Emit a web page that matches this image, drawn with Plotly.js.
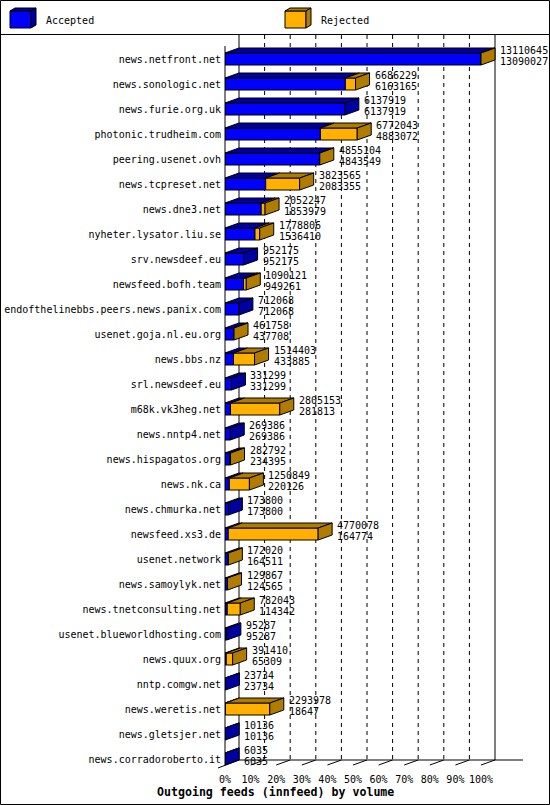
<!DOCTYPE html>
<html><head><meta charset="utf-8">
<script src="https://cdn.plot.ly/plotly-3.0.1.min.js"></script>
<style>html,body{margin:0;padding:0;background:#fff}#chart{width:550px;height:805px}</style>
</head><body><div id="chart"></div>
<script>
const hosts = ["news.netfront.net","news.sonologic.net","news.furie.org.uk","photonic.trudheim.com","peering.usenet.ovh","news.tcpreset.net","news.dne3.net","nyheter.lysator.liu.se","srv.newsdeef.eu","newsfeed.bofh.team","endofthelinebbs.peers.news.panix.com","usenet.goja.nl.eu.org","news.bbs.nz","srl.newsdeef.eu","m68k.vk3heg.net","news.nntp4.net","news.hispagatos.org","news.nk.ca","news.chmurka.net","newsfeed.xs3.de","usenet.network","news.samoylyk.net","news.tnetconsulting.net","usenet.blueworldhosting.com","news.quux.org","nntp.comgw.net","news.weretis.net","news.gletsjer.net","news.corradoroberto.it"];
const offered = [13110645,6686229,6137919,6772043,4855104,3823565,2052247,1778806,952175,1090121,712068,461758,1514403,331299,2805153,269386,282792,1250849,173800,4770078,172020,129867,782043,95287,391410,23734,2293978,10136,6035];
const accepted = [13090027,6163165,6137919,4883072,4843549,2083355,1853979,1536410,952175,949261,712068,437708,433885,331299,281813,269386,234395,220126,173800,164774,164511,124565,114342,95287,65309,23734,18647,10136,6035];
const tickPercents = [0,10,20,30,40,50,60,70,80,90,100];
const seriesNames = ["Accepted","Rejected"];
const axisTitle = "Outgoing feeds (innfeed) by volume";

const W = 550, H = 805;
const PLOT_L = 225, PLOT_R = 545, PLOT_T = 46.5, PLOT_B = 771.5;
const XMAX = 125;
const pxPerX = (PLOT_R - PLOT_L) / XMAX;
const pxPerY = 25;
const DX = 14 / pxPerX, DY = 5 / pxPerY, HH = 0.24;
const BLUE = '#0000FF', DBLUE = '#0000A0', ORANGE = '#FFB000', DORANGE = '#B07C00';
const FONT = 'DejaVu Sans Mono, Liberation Mono, monospace';

const maxTotal = Math.max(...offered);
const accPct = accepted.map(v => v / maxTotal * 100);
const totPct = offered.map(v => v / maxTotal * 100);
const rejPct = offered.map((v, i) => (v - accepted[i]) / maxTotal * 100);
const yIdx = hosts.map((_, i) => i);

const px = p => p / W;
const py = p => 1 - p / H;

const topB = {x: [], y: []}, topO = {x: [], y: []}, sideB = {x: [], y: []}, sideO = {x: [], y: []};
hosts.forEach((h, i) => {
  const yt = i - HH, yb = i + HH;
  topB.x.push(0, accPct[i], accPct[i] + DX, DX, 0, null);
  topB.y.push(yt, yt, yt - DY, yt - DY, yt, null);
  if (rejPct[i] > 0) {
    topO.x.push(accPct[i], totPct[i], totPct[i] + DX, accPct[i] + DX, accPct[i], null);
    topO.y.push(yt, yt, yt - DY, yt - DY, yt, null);
  }
  const e = totPct[i];
  const side = rejPct[i] > 0 ? sideO : sideB;
  side.x.push(e, e + DX, e + DX, e, e, null);
  side.y.push(yt, yt - DY, yb - DY, yb, yt, null);
});

const faceTrace = (f, color) => ({
  type: 'scatter', mode: 'lines', x: f.x, y: f.y, fill: 'toself', fillcolor: color,
  line: {color: '#000', width: 1}, hoverinfo: 'skip', showlegend: false
});

const rejIdx = yIdx.filter(i => rejPct[i] > 0);
const traces = [
  {type: 'bar', orientation: 'h', name: seriesNames[0], y: yIdx, x: accPct, base: 0, width: 0.48,
   marker: {color: BLUE, line: {color: '#000', width: 1}}, showlegend: false, hoverinfo: 'skip'},
  {type: 'bar', orientation: 'h', name: seriesNames[1], y: rejIdx.map(i => i), x: rejIdx.map(i => rejPct[i]),
   base: rejIdx.map(i => accPct[i]), width: 0.48,
   marker: {color: ORANGE, line: {color: '#000', width: 1}}, showlegend: false, hoverinfo: 'skip'},
  faceTrace(topB, DBLUE), faceTrace(topO, DORANGE), faceTrace(sideB, DBLUE), faceTrace(sideO, DORANGE)
];

const shapes = [];
const L = (x0, y0, x1, y1, extra) => Object.assign({type: 'line', xref: 'paper', yref: 'paper',
  x0: px(x0), y0: py(y0), x1: px(x1), y1: py(y1), line: {color: '#000', width: 1}}, extra || {});
shapes.push({type: 'rect', xref: 'paper', yref: 'paper', x0: px(0.5), y0: py(0.5), x1: px(549.5), y1: py(804.5), line: {color: '#000', width: 1}});
shapes.push(L(0, 34.5, 550, 34.5));
tickPercents.forEach((t, k) => {
  shapes.push({type: 'line', xref: 'x', yref: 'paper', x0: t + DX, x1: t + DX, y0: py(35), y1: py(760),
    line: {color: '#000', width: 1, dash: (k === 0 || k === tickPercents.length - 1) ? 'solid' : '4px,4px'}, layer: 'below'});
  if (k > 0) {
    const xf = PLOT_L + t * pxPerX;
    shapes.push(L(xf, 765, xf + 14, 760));
  }
});
shapes.push(L(225, 46, 225, 765));
shapes.push(L(218, 768, 239, 760));
shapes.push(L(239, 760, 523, 760));
function cube(x0, color, dark) {
  const y0 = 11, y1 = 28, x1 = x0 + 21, d = 5, dy = 3;
  shapes.push({type: 'path', xref: 'paper', yref: 'paper', fillcolor: color, line: {color: '#000', width: 1},
    path: `M${px(x0)},${py(y0)} L${px(x1)},${py(y0)} L${px(x1)},${py(y1)} L${px(x0)},${py(y1)} Z`});
  shapes.push({type: 'path', xref: 'paper', yref: 'paper', fillcolor: dark, line: {color: '#000', width: 1},
    path: `M${px(x0)},${py(y0)} L${px(x0 + d)},${py(y0 - dy)} L${px(x1 + d)},${py(y0 - dy)} L${px(x1)},${py(y0)} Z`});
  shapes.push({type: 'path', xref: 'paper', yref: 'paper', fillcolor: dark, line: {color: '#000', width: 1},
    path: `M${px(x1)},${py(y0)} L${px(x1 + d)},${py(y0 - dy)} L${px(x1 + d)},${py(y1 - dy)} L${px(x1)},${py(y1)} Z`});
}
cube(10, BLUE, DBLUE);
cube(285, ORANGE, DORANGE);

const annotations = [];
hosts.forEach((h, i) => {
  [[offered[i], 8.5], [accepted[i], -2.5]].forEach(([v, ys]) => {
    annotations.push({x: totPct[i] + DX, y: i, xref: 'x', yref: 'y', text: String(v), showarrow: false,
      xanchor: 'left', yanchor: 'middle', xshift: 3, yshift: ys, font: {family: FONT, size: 10, color: '#000'}});
  });
});
annotations.push({x: px(44), y: py(20), xref: 'paper', yref: 'paper', text: seriesNames[0], showarrow: false, xanchor: 'left', yanchor: 'middle', font: {family: FONT, size: 10, color: '#000'}});
annotations.push({x: px(319), y: py(20), xref: 'paper', yref: 'paper', text: seriesNames[1], showarrow: false, xanchor: 'left', yanchor: 'middle', font: {family: FONT, size: 10, color: '#000'}});
annotations.push({x: px(275), y: py(792), xref: 'paper', yref: 'paper', text: '<b>' + axisTitle + '</b>', showarrow: false, xanchor: 'center', yanchor: 'middle', font: {family: FONT, size: 11.6, color: '#000'}});

const layout = {
  width: W, height: H, margin: {l: 0, r: 0, t: 0, b: 0, pad: 0},
  paper_bgcolor: '#fff', plot_bgcolor: 'rgba(0,0,0,0)', barmode: 'overlay', showlegend: false,
  xaxis: {domain: [PLOT_L / W, PLOT_R / W], range: [0, XMAX], showgrid: false, zeroline: false, showline: false,
    tickmode: 'array', tickvals: tickPercents, ticktext: tickPercents.map(t => t + '%'), ticks: '',
    tickfont: {family: FONT, size: 10, color: '#000'}, fixedrange: true},
  yaxis: {domain: [1 - PLOT_B / H, 1 - PLOT_T / H], range: [hosts.length - 0.5, -0.5], showgrid: false, zeroline: false,
    showline: false, tickmode: 'array', tickvals: yIdx, ticktext: hosts, ticks: '', ticklabelstandoff: 3,
    tickfont: {family: FONT, size: 10, color: '#000'}, fixedrange: true},
  shapes: shapes, annotations: annotations
};
Plotly.newPlot('chart', traces, layout, {staticPlot: true, displayModeBar: false});
</script></body></html>
